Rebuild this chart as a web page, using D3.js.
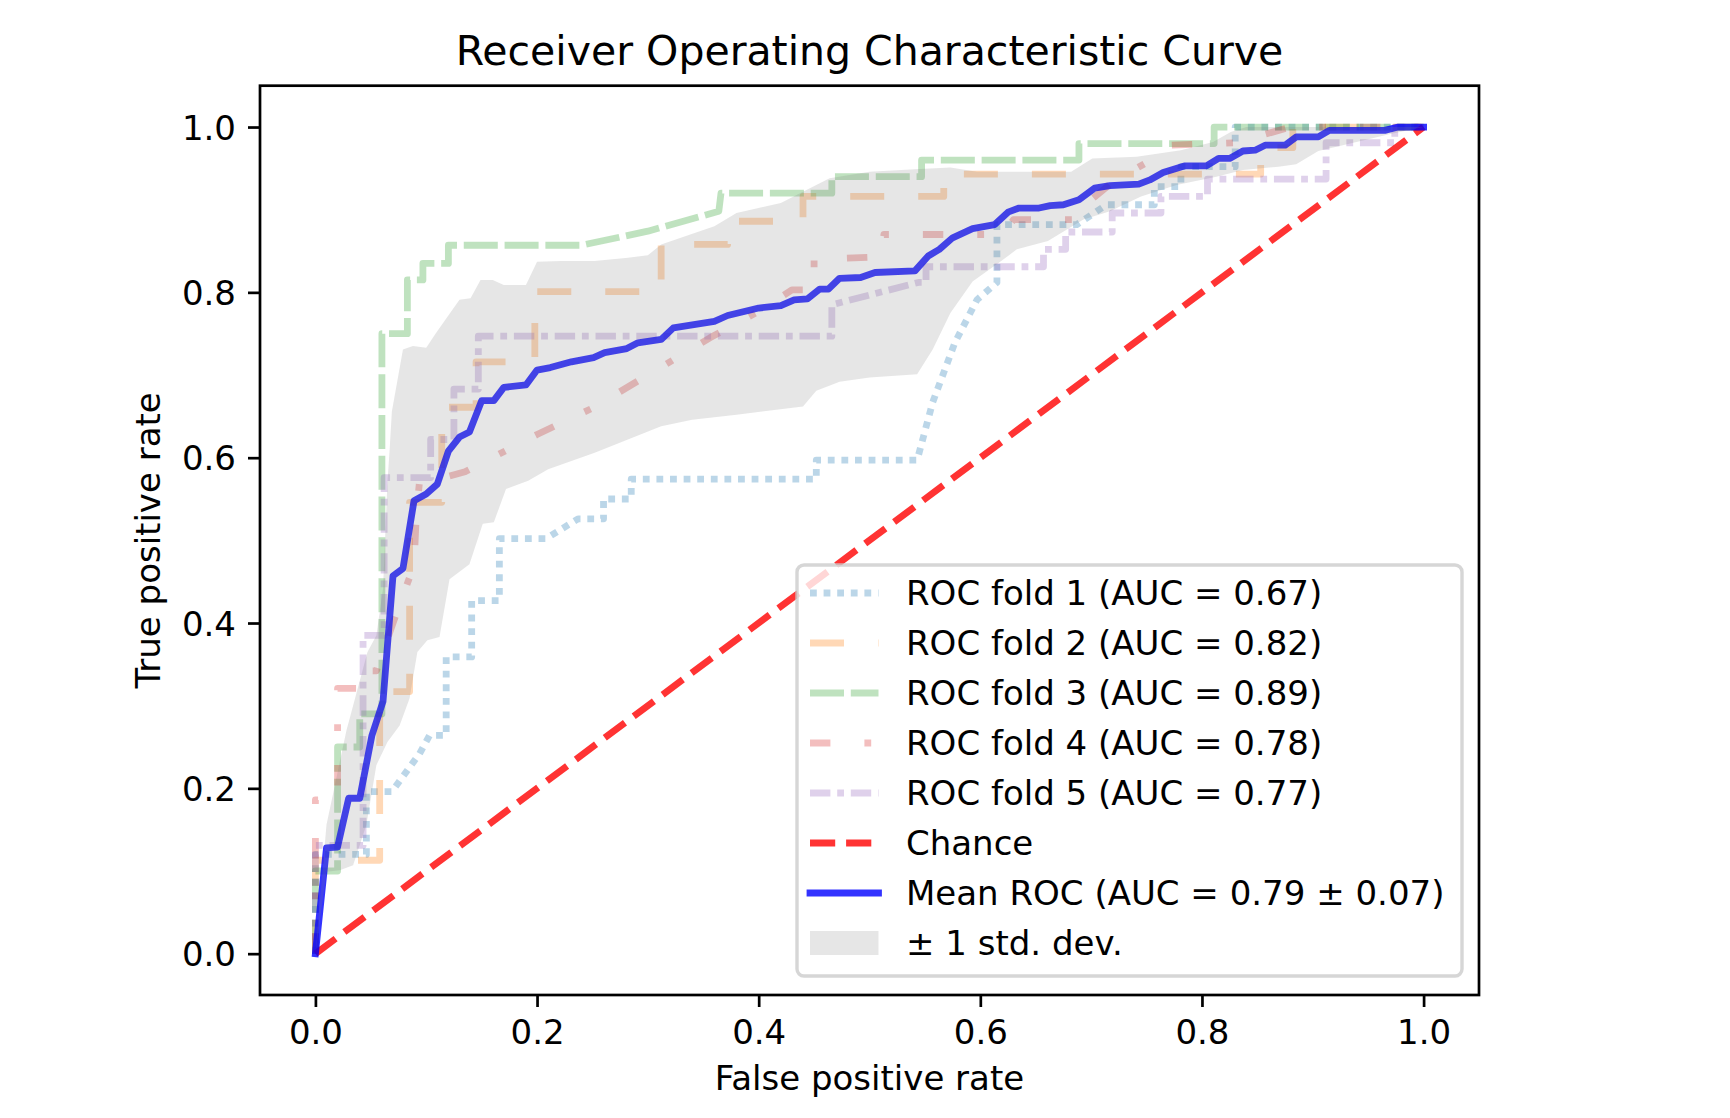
<!DOCTYPE html>
<html>
<head>
<meta charset="utf-8">
<script src="https://cdnjs.cloudflare.com/ajax/libs/d3/7.8.5/d3.min.js"></script>
<style>
  body { margin: 0; background: #fff; }
  text { font-family: "DejaVu Sans", sans-serif; fill: #000; }
</style>
</head>
<body>
<svg id="chart" width="1730" height="1118"></svg>
<script>
// fold curves as [fpr, tpr]
var fold1 = [[0,0],[0,0.12],[0.046,0.12],[0.046,0.196],[0.069,0.196],[0.094,0.242],[0.103,0.264],[0.118,0.264],
  [0.118,0.359],[0.141,0.359],[0.141,0.427],[0.166,0.427],[0.166,0.502],[0.208,0.502],[0.237,0.526],[0.26,0.526],
  [0.26,0.55],[0.285,0.55],[0.285,0.574],[0.452,0.574],[0.452,0.597],[0.543,0.597],[0.557,0.667],[0.577,0.739],
  [0.597,0.791],[0.615,0.812],[0.615,0.882],[0.687,0.882],[0.714,0.906],[0.757,0.906],[0.757,0.928],[0.781,0.928],
  [0.781,0.952],[0.83,0.952],[0.83,1],[1,1]];
var fold2 = [[0,0],[0,0.113],[0.058,0.113],[0.058,0.317],[0.085,0.317],[0.085,0.546],[0.114,0.546],[0.114,0.661],
  [0.145,0.661],[0.145,0.716],[0.198,0.716],[0.198,0.801],[0.312,0.801],[0.312,0.858],[0.372,0.858],[0.372,0.886],
  [0.44,0.886],[0.44,0.916],[0.567,0.916],[0.567,0.943],[0.853,0.943],[0.853,0.975],[0.882,0.975],[0.882,1],[1,1]];
var fold3 = [[0,0],[0,0.1],[0.02,0.1],[0.02,0.25],[0.04,0.25],[0.04,0.29],[0.06,0.29],[0.06,0.75],[0.083,0.75],
  [0.083,0.815],[0.097,0.815],[0.097,0.835],[0.12,0.835],[0.12,0.857],[0.24,0.857],[0.3,0.874],[0.364,0.898],
  [0.366,0.92],[0.466,0.92],[0.466,0.94],[0.547,0.94],[0.547,0.96],[0.689,0.96],[0.689,0.98],[0.811,0.98],[0.811,1],[1,1]];
var fold4 = [[0,0],[0,0.186],[0.02,0.186],[0.02,0.321],[0.04,0.321],[0.04,0.342],[0.055,0.342],[0.07,0.4],
  [0.089,0.47],[0.091,0.53],[0.094,0.572],[0.105,0.572],[0.135,0.583],[0.2,0.628],[0.25,0.66],[0.3,0.7],
  [0.356,0.745],[0.4,0.777],[0.43,0.803],[0.45,0.803],[0.45,0.84],[0.51,0.843],[0.513,0.87],[0.62,0.87],
  [0.63,0.888],[0.69,0.888],[0.7,0.912],[0.72,0.934],[0.75,0.957],[0.77,0.978],[0.83,0.981],[0.88,1],[1,1]];
var fold5 = [[0,0],[0,0.131],[0.043,0.131],[0.043,0.385],[0.062,0.385],[0.062,0.576],[0.104,0.576],[0.104,0.622],
  [0.125,0.622],[0.125,0.683],[0.147,0.683],[0.147,0.747],[0.466,0.747],[0.466,0.785],[0.544,0.812],[0.551,0.812],
  [0.551,0.831],[0.657,0.831],[0.657,0.852],[0.677,0.852],[0.677,0.873],[0.719,0.873],[0.719,0.896],[0.763,0.896],
  [0.763,0.916],[0.805,0.916],[0.805,0.937],[0.912,0.937],[0.912,0.981],[0.974,0.981],[0.974,1],[1,1]];

var meanRoc = [[0,0],[0.01,0.128],[0.02,0.129],[0.03,0.188],[0.04,0.188],[0.051,0.264],[0.061,0.305],[0.07,0.457],
  [0.079,0.466],[0.089,0.548],[0.1,0.556],[0.11,0.568],[0.12,0.608],[0.13,0.625],[0.139,0.631],[0.15,0.669],
  [0.161,0.669],[0.17,0.685],[0.19,0.688],[0.2,0.706],[0.212,0.709],[0.231,0.716],[0.251,0.721],[0.261,0.727],
  [0.281,0.732],[0.291,0.739],[0.312,0.743],[0.323,0.757],[0.36,0.765],[0.372,0.772],[0.4,0.781],[0.42,0.784],
  [0.432,0.791],[0.444,0.792],[0.455,0.804],[0.463,0.804],[0.473,0.817],[0.492,0.818],[0.505,0.824],[0.541,0.826],
  [0.553,0.844],[0.563,0.852],[0.575,0.866],[0.593,0.877],[0.613,0.882],[0.625,0.897],[0.635,0.902],[0.653,0.902],
  [0.663,0.905],[0.675,0.906],[0.689,0.912],[0.703,0.926],[0.717,0.929],[0.743,0.931],[0.753,0.936],[0.765,0.945],
  [0.784,0.953],[0.804,0.953],[0.815,0.962],[0.825,0.962],[0.837,0.971],[0.848,0.972],[0.857,0.978],[0.875,0.978],
  [0.885,0.988],[0.905,0.988],[0.915,0.996],[0.965,0.996],[0.977,1],[1,1]];

// +/- 1 std band edges
var stdUpper = [[0,0],[0.01,0.156],[0.028,0.27],[0.047,0.365],[0.055,0.385],[0.061,0.441],[0.065,0.57],[0.067,0.61],
  [0.069,0.656],[0.079,0.731],[0.088,0.735],[0.1,0.733],[0.109,0.751],[0.13,0.791],[0.14,0.793],[0.149,0.815],
  [0.16,0.815],[0.17,0.809],[0.19,0.809],[0.2,0.837],[0.222,0.838],[0.252,0.838],[0.282,0.842],[0.3,0.845],
  [0.312,0.858],[0.36,0.88],[0.38,0.896],[0.42,0.908],[0.464,0.938],[0.5,0.946],[0.541,0.949],[0.573,0.951],
  [0.597,0.946],[0.682,0.946],[0.701,0.962],[0.741,0.964],[0.781,0.972],[0.81,0.982],[0.826,0.994],[0.84,1],[1,1]];
var stdLower = [[0,0],[0.01,0.099],[0.022,0.101],[0.034,0.107],[0.046,0.156],[0.055,0.228],[0.065,0.256],[0.076,0.276],
  [0.085,0.309],[0.092,0.365],[0.101,0.379],[0.112,0.383],[0.121,0.453],[0.139,0.471],[0.151,0.52],[0.161,0.522],
  [0.172,0.562],[0.192,0.572],[0.21,0.586],[0.252,0.606],[0.282,0.622],[0.312,0.638],[0.34,0.646],[0.38,0.652],
  [0.44,0.662],[0.452,0.681],[0.473,0.692],[0.5,0.697],[0.543,0.701],[0.557,0.731],[0.573,0.775],[0.593,0.813],
  [0.617,0.836],[0.633,0.852],[0.661,0.862],[0.693,0.888],[0.717,0.898],[0.745,0.916],[0.777,0.93],[0.813,0.94],
  [0.837,0.948],[0.869,0.952],[0.885,0.955],[0.905,0.971],[0.971,0.992],[1,1]];

var chance = [[0,0],[1,1]];
var tickValues = [0, 0.2, 0.4, 0.6, 0.8, 1.0];

var foldLabels = ["ROC fold 1 (AUC = 0.67)", "ROC fold 2 (AUC = 0.82)", "ROC fold 3 (AUC = 0.89)",
  "ROC fold 4 (AUC = 0.78)", "ROC fold 5 (AUC = 0.77)"];
var foldColors = ["#1f77b4", "#ff7f0e", "#2ca02c", "#d62728", "#9467bd"];
var foldDashes = ["6.8,6.8", "34,34", "34,6.8", "20.4,34,6.8,34", "20.4,6.8,6.8,6.8"];

var svg = d3.select('#chart');
var axLeft = 260, axRight = 1479, axTop = 85.7, axBottom = 995;

var x = d3.scaleLinear().domain([-0.05, 1.05]).range([axLeft, axRight]);
var y = d3.scaleLinear().domain([-0.05, 1.05]).range([axBottom, axTop]);
var line = d3.line().x(function(d) { return x(d[0]); }).y(function(d) { return y(d[1]); });

drawCurves();
drawAxes();
drawLegend();

function drawCurves() {
    [fold1, fold2, fold3, fold4, fold5].forEach(function(fold, i) {
        svg.append('path')
            .attr('d', line(fold))
            .attr('fill', 'none')
            .attr('stroke', foldColors[i])
            .attr('stroke-opacity', 0.3)
            .attr('stroke-width', 6.8)
            .attr('stroke-dasharray', foldDashes[i])
            .attr('stroke-linejoin', 'round');
    });

    svg.append('path')
        .attr('d', line(chance))
        .attr('fill', 'none')
        .attr('stroke', '#ff0000')
        .attr('stroke-opacity', 0.8)
        .attr('stroke-width', 6.8)
        .attr('stroke-dasharray', '25.2,10.9');

    svg.append('path')
        .attr('d', line(meanRoc))
        .attr('fill', 'none')
        .attr('stroke', '#0000ff')
        .attr('stroke-opacity', 0.8)
        .attr('stroke-width', 6.8)
        .attr('stroke-linejoin', 'round')
        .attr('stroke-linecap', 'square');

    // band: upper edge left to right, then lower edge back
    var band = stdUpper.concat(stdLower.slice().reverse());
    svg.append('path')
        .attr('d', line(band) + 'Z')
        .attr('fill', '#808080')
        .attr('fill-opacity', 0.2)
        .attr('stroke', 'none');
}

function drawAxes() {
    var xAxis = d3.axisBottom(x).tickValues(tickValues).tickFormat(d3.format('.1f')).tickSize(12).tickPadding(12);
    var yAxis = d3.axisLeft(y).tickValues(tickValues).tickFormat(d3.format('.1f')).tickSize(12).tickPadding(12);

    var gx = svg.append('g').attr('transform', 'translate(0,' + axBottom + ')').call(xAxis);
    var gy = svg.append('g').attr('transform', 'translate(' + axLeft + ',0)').call(yAxis);
    [gx, gy].forEach(function(g) {
        g.select('.domain').remove();
        g.selectAll('line').attr('stroke', '#000').attr('stroke-width', 2.7);
        g.selectAll('text').style('font-size', '34px').style('font-family', '"DejaVu Sans", sans-serif').attr('fill', '#000');
    });
    gx.selectAll('text').attr('dy', null).attr('y', 49);
    gy.selectAll('text').attr('dy', 12);

    svg.append('rect')
        .attr('x', axLeft).attr('y', axTop)
        .attr('width', axRight - axLeft).attr('height', axBottom - axTop)
        .attr('fill', 'none').attr('stroke', '#000').attr('stroke-width', 2.7);

    svg.append('text')
        .attr('x', (axLeft + axRight) / 2).attr('y', 65)
        .attr('text-anchor', 'middle')
        .style('font-size', '41px')
        .text('Receiver Operating Characteristic Curve');

    svg.append('text')
        .attr('x', (axLeft + axRight) / 2).attr('y', 1090)
        .attr('text-anchor', 'middle')
        .style('font-size', '34px')
        .text('False positive rate');

    svg.append('text')
        .attr('transform', 'translate(160,' + (axTop + axBottom) / 2 + ') rotate(-90)')
        .attr('text-anchor', 'middle')
        .style('font-size', '34px')
        .text('True positive rate');
}

function drawLegend() {
    var g = svg.append('g');
    g.append('rect')
        .attr('x', 797).attr('y', 565)
        .attr('width', 665).attr('height', 411)
        .attr('rx', 7).attr('ry', 7)
        .attr('fill', '#fff').attr('fill-opacity', 0.8)
        .attr('stroke', '#cccccc').attr('stroke-opacity', 0.8).attr('stroke-width', 3.4);

    var rowY = function(i) { return 593 + i * 50; };
    var hx0 = 810, hx1 = 878.5, tx = 906;

    foldLabels.forEach(function(label, i) {
        g.append('line')
            .attr('x1', hx0).attr('x2', hx1).attr('y1', rowY(i)).attr('y2', rowY(i))
            .attr('stroke', foldColors[i]).attr('stroke-opacity', 0.3)
            .attr('stroke-width', 6.8).attr('stroke-dasharray', foldDashes[i]);
        g.append('text').attr('x', tx).attr('y', rowY(i) + 12).style('font-size', '34px').text(label);
    });

    g.append('line')
        .attr('x1', hx0).attr('x2', hx1).attr('y1', rowY(5)).attr('y2', rowY(5))
        .attr('stroke', '#ff0000').attr('stroke-opacity', 0.8)
        .attr('stroke-width', 6.8).attr('stroke-dasharray', '25.2,10.9');
    g.append('text').attr('x', tx).attr('y', rowY(5) + 12).style('font-size', '34px').text('Chance');

    g.append('line')
        .attr('x1', hx0).attr('x2', hx1).attr('y1', rowY(6)).attr('y2', rowY(6))
        .attr('stroke', '#0000ff').attr('stroke-opacity', 0.8)
        .attr('stroke-width', 6.8).attr('stroke-linecap', 'square');
    g.append('text').attr('x', tx).attr('y', rowY(6) + 12).style('font-size', '34px').text('Mean ROC (AUC = 0.79 \u00b1 0.07)');

    g.append('rect')
        .attr('x', hx0).attr('y', rowY(7) - 12)
        .attr('width', hx1 - hx0).attr('height', 24)
        .attr('fill', '#808080').attr('fill-opacity', 0.2);
    g.append('text').attr('x', tx).attr('y', rowY(7) + 12).style('font-size', '34px').text('\u00b1 1 std. dev.');
}
</script>
</body>
</html>
